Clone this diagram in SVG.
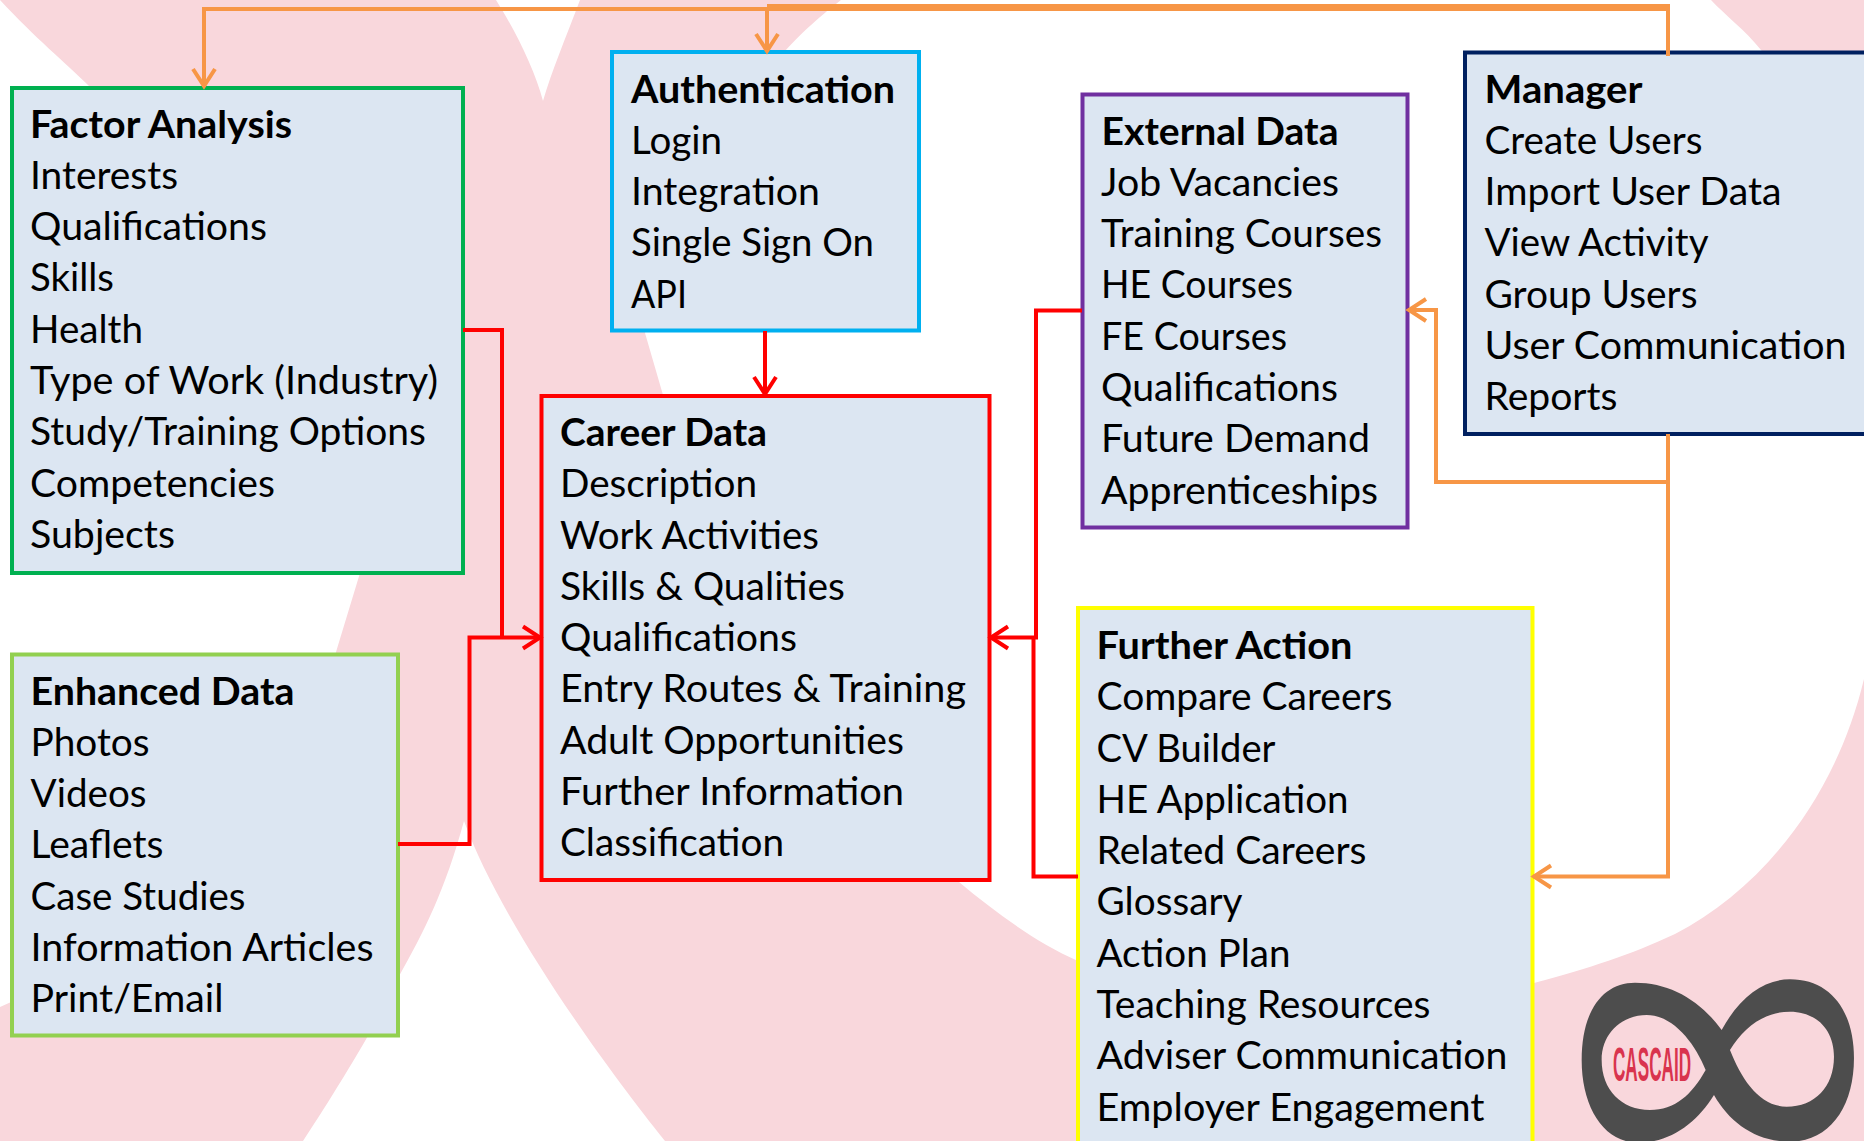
<svg xmlns="http://www.w3.org/2000/svg" width="1864" height="1141" viewBox="0 0 1864 1141">
<style>
.box{fill:#DCE6F2;stroke-width:4}
text{font-family:"Lato","Noto Sans",sans-serif;font-size:38px;fill:#000;font-kerning:normal;transform:translate(0,1.100px)}
.t{font-weight:700}
.o{fill:none;stroke:#F79646;stroke-width:4}
.r{fill:none;stroke:#FF0000;stroke-width:4}
.w{fill:#fff}
</style>
<defs>
<marker id="ao" markerUnits="userSpaceOnUse" markerWidth="30" markerHeight="30" refX="23" refY="15" orient="auto"><path d="M5,4 L22,15 L5,26" fill="none" stroke="#F79646" stroke-width="4"/></marker>
<marker id="ar" markerUnits="userSpaceOnUse" markerWidth="30" markerHeight="30" refX="23" refY="15" orient="auto"><path d="M5,4 L22,15 L5,26" fill="none" stroke="#FF0000" stroke-width="4"/></marker>
</defs>
<g id="background">
<rect width="1864" height="1141" fill="#F9D7DC"/>
<path class="w" d="M0,0 C35,38 65,62 90,87 C200,280 340,420 360,573 L336,652 C300,800 180,930 0,1007 Z"/>
<path class="w" d="M496,0 L580,0 C565,40 552,70 543,101 C535,70 515,30 496,0 Z"/>
<path class="w" d="M464,821 C445,890 425,930 398,978 C385,1010 340,1085 303,1141 L665,1141 C600,1060 500,920 464,821 Z"/>
<path class="w" d="M841,0 C815,20 800,35 785,51 C720,160 660,270 645,333 L663,395 C680,600 800,790 959,882 C995,912 1035,942 1078,961 C1230,1020 1400,1030 1534,983 C1590,968 1630,955 1675,934 C1760,890 1835,800 1864,679 L1864,200 C1820,140 1790,90 1761,50 C1745,30 1725,15 1711,0 Z"/>
</g>
<g id="factor-analysis">
<rect class="box" x="12" y="88" width="451" height="485" stroke="#00B050"/>
<text class="t" x="30" y="136.500" textLength="262" lengthAdjust="spacingAndGlyphs">Factor Analysis</text>
<text x="30" y="187.800" textLength="148" lengthAdjust="spacingAndGlyphs">Interests</text>
<text x="30" y="239.100" textLength="237" lengthAdjust="spacingAndGlyphs">Qualifications</text>
<text x="30" y="290.400" textLength="84" lengthAdjust="spacingAndGlyphs">Skills</text>
<text x="30" y="341.700" textLength="113" lengthAdjust="spacingAndGlyphs">Health</text>
<text x="30" y="393" textLength="408" lengthAdjust="spacingAndGlyphs">Type of Work (Industry)</text>
<text x="30" y="444.300" textLength="396" lengthAdjust="spacingAndGlyphs">Study/Training Options</text>
<text x="30" y="495.600" textLength="245" lengthAdjust="spacingAndGlyphs">Competencies</text>
<text x="30" y="546.900" textLength="145" lengthAdjust="spacingAndGlyphs">Subjects</text>
</g>
<g id="authentication">
<rect class="box" x="612" y="52" width="307" height="278.500" stroke="#00B0F0"/>
<text class="t" x="631" y="101.500" textLength="264" lengthAdjust="spacingAndGlyphs">Authentication</text>
<text x="631" y="152.800" textLength="91" lengthAdjust="spacingAndGlyphs">Login</text>
<text x="631" y="204.100" textLength="189" lengthAdjust="spacingAndGlyphs">Integration</text>
<text x="631" y="255.400" textLength="243" lengthAdjust="spacingAndGlyphs">Single Sign On</text>
<text x="631" y="306.700" textLength="56" lengthAdjust="spacingAndGlyphs">API</text>
</g>
<g id="career-data">
<rect class="box" x="541.500" y="396" width="448" height="484" stroke="#FF0000"/>
<text class="t" x="560" y="444.900" textLength="207" lengthAdjust="spacingAndGlyphs">Career Data</text>
<text x="560" y="496.200" textLength="197" lengthAdjust="spacingAndGlyphs">Description</text>
<text x="560" y="547.500" textLength="259" lengthAdjust="spacingAndGlyphs">Work Activities</text>
<text x="560" y="598.800" textLength="285" lengthAdjust="spacingAndGlyphs">Skills &amp; Qualities</text>
<text x="560" y="650.100" textLength="237" lengthAdjust="spacingAndGlyphs">Qualifications</text>
<text x="560" y="701.400" textLength="406" lengthAdjust="spacingAndGlyphs">Entry Routes &amp; Training</text>
<text x="560" y="752.700" textLength="344" lengthAdjust="spacingAndGlyphs">Adult Opportunities</text>
<text x="560" y="804" textLength="344" lengthAdjust="spacingAndGlyphs">Further Information</text>
<text x="560" y="855.300" textLength="224" lengthAdjust="spacingAndGlyphs">Classification</text>
</g>
<g id="external-data">
<rect class="box" x="1082.500" y="94.500" width="325" height="433" stroke="#7030A0"/>
<text class="t" x="1101.500" y="143.500" textLength="237" lengthAdjust="spacingAndGlyphs">External Data</text>
<text x="1101" y="194.800" textLength="238" lengthAdjust="spacingAndGlyphs">Job Vacancies</text>
<text x="1101" y="246.100" textLength="281" lengthAdjust="spacingAndGlyphs">Training Courses</text>
<text x="1101" y="297.400" textLength="192" lengthAdjust="spacingAndGlyphs">HE Courses</text>
<text x="1101" y="348.700" textLength="186" lengthAdjust="spacingAndGlyphs">FE Courses</text>
<text x="1101" y="400" textLength="237" lengthAdjust="spacingAndGlyphs">Qualifications</text>
<text x="1101" y="451.300" textLength="269" lengthAdjust="spacingAndGlyphs">Future Demand</text>
<text x="1101" y="502.600" textLength="277" lengthAdjust="spacingAndGlyphs">Apprenticeships</text>
</g>
<g id="manager">
<rect class="box" x="1465" y="52.500" width="420" height="381.500" stroke="#002060"/>
<text class="t" x="1484.500" y="101.500" textLength="158" lengthAdjust="spacingAndGlyphs">Manager</text>
<text x="1484.500" y="152.800" textLength="218" lengthAdjust="spacingAndGlyphs">Create Users</text>
<text x="1484.500" y="204.100" textLength="297" lengthAdjust="spacingAndGlyphs">Import User Data</text>
<text x="1484.500" y="255.400" textLength="224" lengthAdjust="spacingAndGlyphs">View Activity</text>
<text x="1484.500" y="306.700" textLength="213" lengthAdjust="spacingAndGlyphs">Group Users</text>
<text x="1484.500" y="358" textLength="362" lengthAdjust="spacingAndGlyphs">User Communication</text>
<text x="1484.500" y="409.300" textLength="133" lengthAdjust="spacingAndGlyphs">Reports</text>
</g>
<g id="further-action">
<rect class="box" x="1078" y="608" width="454.500" height="560" stroke="#FFFF00"/>
<text class="t" x="1096.500" y="657.900" textLength="256" lengthAdjust="spacingAndGlyphs">Further Action</text>
<text x="1096.500" y="709.200" textLength="296" lengthAdjust="spacingAndGlyphs">Compare Careers</text>
<text x="1096.500" y="760.500" textLength="179" lengthAdjust="spacingAndGlyphs">CV Builder</text>
<text x="1096.500" y="811.800" textLength="252" lengthAdjust="spacingAndGlyphs">HE Application</text>
<text x="1096.500" y="863.100" textLength="270" lengthAdjust="spacingAndGlyphs">Related Careers</text>
<text x="1096.500" y="914.400" textLength="146" lengthAdjust="spacingAndGlyphs">Glossary</text>
<text x="1096.500" y="965.700" textLength="194" lengthAdjust="spacingAndGlyphs">Action Plan</text>
<text x="1096.500" y="1017" textLength="334" lengthAdjust="spacingAndGlyphs">Teaching Resources</text>
<text x="1096.500" y="1068.300" textLength="411" lengthAdjust="spacingAndGlyphs">Adviser Communication</text>
<text x="1096.500" y="1119.600" textLength="388" lengthAdjust="spacingAndGlyphs">Employer Engagement</text>
</g>
<g id="enhanced-data">
<rect class="box" x="12" y="654.500" width="386" height="381" stroke="#92D050"/>
<text class="t" x="30.500" y="703.500" textLength="264" lengthAdjust="spacingAndGlyphs">Enhanced Data</text>
<text x="30.500" y="754.800" textLength="119" lengthAdjust="spacingAndGlyphs">Photos</text>
<text x="30.500" y="806.100" textLength="116" lengthAdjust="spacingAndGlyphs">Videos</text>
<text x="30.500" y="857.400" textLength="133" lengthAdjust="spacingAndGlyphs">Leaflets</text>
<text x="30.500" y="908.700" textLength="215" lengthAdjust="spacingAndGlyphs">Case Studies</text>
<text x="30.500" y="960" textLength="343" lengthAdjust="spacingAndGlyphs">Information Articles</text>
<text x="30.500" y="1011.300" textLength="193" lengthAdjust="spacingAndGlyphs">Print/Email</text>
</g>
<g id="logo">
<path transform="translate(1560,960) scale(.3333)" fill="#4D4D4D" fill-rule="evenodd" d="M65,300 C65,150 130,68 225,68 C330,68 420,120 485,210 C540,110 610,58 690,58 C810,58 882,150 882,295 C882,440 810,545 690,545 C590,545 510,490 462,405 C410,490 330,548 235,548 C130,548 65,440 65,300 Z M125,300 C125,220 185,165 260,165 C340,165 405,250 437,330 C395,405 345,450 270,450 C185,450 125,390 125,300 Z M510,270 C550,205 610,155 690,155 C770,155 822,210 822,290 C822,380 765,440 680,440 C600,440 545,360 510,270 Z"/>
<text x="1613" y="1080" textLength="78" lengthAdjust="spacingAndGlyphs" style="font-family:'Liberation Sans',sans-serif;font-size:48px;font-weight:700;fill:#D9344E">CASCAID</text>
</g>
<g id="connectors">
<path class="o" d="M767,9 H204 V87" marker-end="url(#ao)"/>
<path class="o" d="M767,8 V52" marker-end="url(#ao)"/>
<path d="M767,7.500 H1670" fill="none" stroke="#F79646" stroke-width="7"/>
<path class="o" d="M1668,5 V56"/>
<path class="o" d="M1668,434 V876.500 H1533" marker-end="url(#ao)"/>
<path class="o" d="M1668,482 H1436 V310 H1408" marker-end="url(#ao)"/>
<path class="r" d="M463,330 H502 V637.500"/>
<path class="r" d="M398,844 H469.500 V637.500 H541" marker-end="url(#ar)"/>
<path class="r" d="M765,331 V395" marker-end="url(#ar)"/>
<path class="r" d="M1082,310.500 H1036 V637.500 H990" marker-end="url(#ar)"/>
<path class="r" d="M1078,876.500 H1033.500 V637.500"/>
</g>
</svg>
